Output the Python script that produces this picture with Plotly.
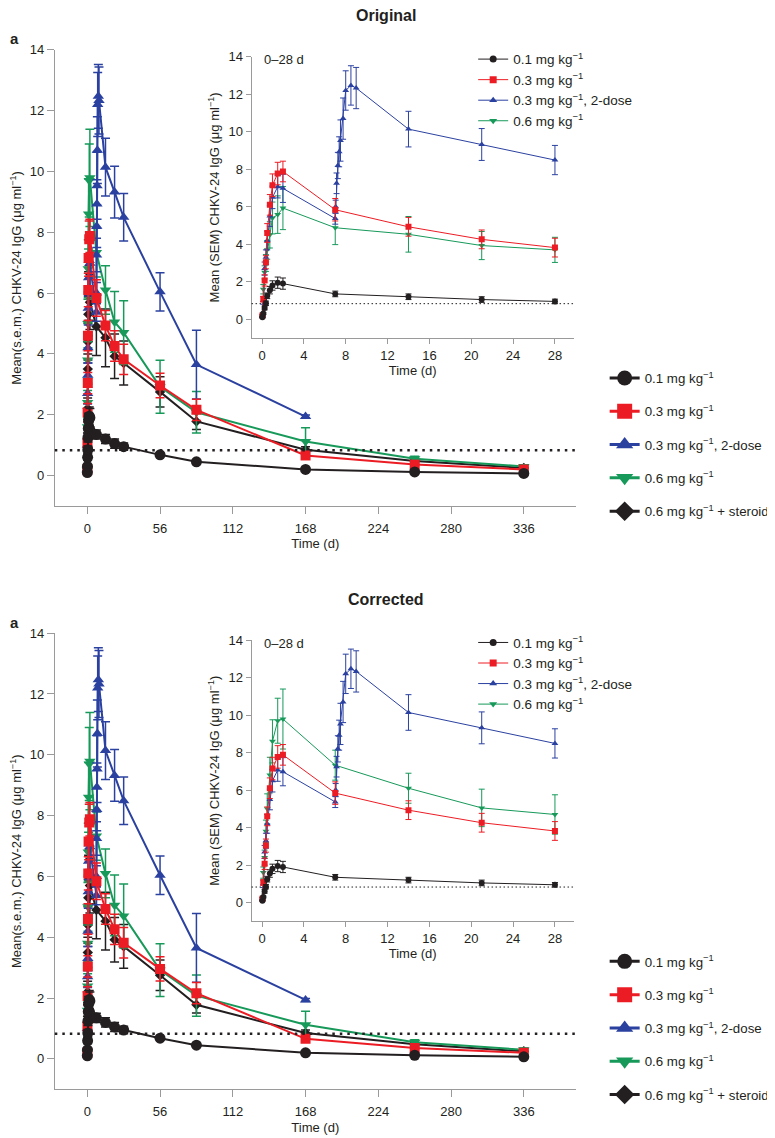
import plotly.graph_objects as go

# sampling times in days
t_early = [0.04, 0.125, 0.25, 0.375, 0.5, 0.75, 1, 1.5, 2, 7, 14, 21, 28]
t_boost = [0.04, 0.125, 0.25, 0.375, 0.5, 0.75, 1, 1.5, 2, 7,
           7.04, 7.125, 7.25, 7.375, 7.5, 7.75, 8, 8.5, 9, 14, 21, 28]
t_late = [56, 84, 168, 252, 336]
t_late_boost = [56, 84, 168]

# 0.1 mg/kg
low_early = [0.1, 0.3, 0.6, 0.85, 1.25, 1.55, 1.8, 1.95, 1.9, 1.35, 1.2, 1.05, 0.95]
low_early_sem = [0.02, 0.05, 0.1, 0.12, 0.15, 0.2, 0.25, 0.3, 0.3, 0.15, 0.15, 0.15, 0.12]
low_late = [0.68, 0.45, 0.2, 0.12, 0.07]
low_late_sem = [0.05, 0.04, 0.03, 0.02, 0.02]

# 0.3 mg/kg
mid_early = [0.2, 1.07, 2.07, 3.04, 4.6, 6.1, 7.15, 7.77, 7.88, 5.84, 4.93, 4.26, 3.82]
mid_early_sem = [0.05, 0.15, 0.3, 0.35, 0.5, 0.55, 0.6, 0.6, 0.55, 0.6, 0.5, 0.5, 0.5]
mid_late = [2.96, 2.16, 0.66, 0.36, 0.2]
mid_late_sem = [0.4, 0.35, 0.1, 0.05, 0.04]

# 0.3 mg/kg, 2-dose
boost_early = [0.2, 1.0, 2.7, 3.3, 4.2, 5.5, 6.5, 7.07, 6.98, 5.37,
               6.0, 7.25, 8.2, 8.93, 9.53, 10.7, 12.2, 12.47, 12.33, 10.14, 9.32, 8.49]
boost_early_sem = [0.05, 0.2, 0.35, 0.4, 0.5, 0.55, 0.6, 0.6, 0.75, 0.3,
                   0.35, 0.55, 0.7, 0.8, 1.1, 1.1, 1.05, 1.05, 1.1, 0.95, 0.85, 0.78]
boost_late = [6.04, 3.65, 1.94]
boost_late_sem = [0.63, 1.13, 0.05]

# 0.6 mg/kg (inset as first published, and corrected)
high_orig = [0.15, 1.6, 2.5, 3.0, 3.7, 4.5, 5.4, 5.58, 5.93, 4.88, 4.53, 3.93, 3.7]
high_orig_sem = [0.05, 0.25, 0.35, 0.45, 0.5, 0.7, 0.85, 1.0, 1.15, 0.9, 0.95, 0.75, 0.67]
high_early = [0.2, 1.6, 2.4, 3.8, 5.0, 6.8, 8.6, 9.7, 9.79, 7.33, 6.1, 5.05, 4.7]
high_early_sem = [0.05, 0.3, 0.4, 0.6, 0.8, 0.95, 1.15, 1.2, 1.6, 0.8, 0.8, 1.0, 1.05]
high_late = [2.92, 2.08, 1.12, 0.55, 0.3]
high_late_sem = [0.87, 0.68, 0.45, 0.08, 0.05]

# 0.6 mg/kg + steroid
ster_early = [0.3, 1.2, 2.2, 3.5, 4.4, 5.3, 5.9, 6.0, 5.7, 4.9, 4.53, 3.92, 3.7]
ster_early_sem = [0.05, 0.2, 0.35, 0.5, 0.6, 0.7, 0.8, 0.9, 0.9, 0.95, 0.95, 0.73, 0.72]
ster_late = [2.75, 1.78, 0.85, 0.48, 0.25]
ster_late_sem = [0.5, 0.27, 0.1, 0.06, 0.04]

lloq = 0.83
main_ticks = [0, 56, 112, 168, 224, 280, 336]
inset_ticks = [0, 4, 8, 12, 16, 20, 24, 28]

BLACK = '#231f20'
RED = '#ec1c24'
BLUE = '#2b41a0'
GREEN = '#17995a'
AXIS = '#9a9a9a'
FONT = 'Liberation Sans, Arial, sans-serif'
KG = 'mg kg<sup>\u22121</sup>'

# page body adds an 8px margin, so the figure is a bit smaller and shifted
PAD = 8
W, H = 775 - PAD, 1138 - PAD


def fx(p):
    return (p - PAD) / W


def fy(p):
    return 1 - (p - PAD) / H


fig = go.Figure()


# (name, colour, symbol, main size, main x, main y, main sem, inset x, inset y, inset sem)
def groups(green_inset, green_inset_sem):
    return [
        ('0.6 ' + KG + ' + steroid', BLACK, 'diamond', 8,
         t_early + t_late, ster_early + ster_late, ster_early_sem + ster_late_sem, None, None, None),
        ('0.6 ' + KG, GREEN, 'triangle-down', 10,
         t_early + t_late, high_early + high_late, high_early_sem + high_late_sem,
         t_early, green_inset, green_inset_sem),
        ('0.3 ' + KG + ', 2-dose', BLUE, 'triangle-up', 10,
         t_boost + t_late_boost, boost_early + boost_late, boost_early_sem + boost_late_sem,
         t_boost, boost_early, boost_early_sem),
        ('0.3 ' + KG, RED, 'square', 10,
         t_early + t_late, mid_early + mid_late, mid_early_sem + mid_late_sem,
         t_early, mid_early, mid_early_sem),
        ('0.1 ' + KG, BLACK, 'circle', 11,
         t_early + t_late, low_early + low_late, low_early_sem + low_late_sem,
         t_early, low_early, low_early_sem),
    ]


legend_main_order = [4, 3, 2, 1, 0]

panels = [('Original', high_orig, high_orig_sem, 0),
          ('Corrected', high_early, high_early_sem, 587)]

layout_axes = {}
legends = {}
annotations = []
shapes = []

for k, (title, g_in, g_in_sem, off) in enumerate(panels):
    mx = 'x' if k == 0 else 'x3'
    my = 'y' if k == 0 else 'y3'
    ix = 'x2' if k == 0 else 'x4'
    iy = 'y2' if k == 0 else 'y4'
    leg_main = 'legend' if k == 0 else 'legend3'
    leg_in = 'legend2' if k == 0 else 'legend4'

    grp = groups(g_in, g_in_sem)
    for name, col, sym, size, xs, ys, es, ixs, iys, ies in grp:
        fig.add_trace(go.Scatter(
            x=xs, y=ys, xaxis=mx, yaxis=my, mode='lines+markers',
            line=dict(color=col, width=2),
            marker=dict(symbol=sym, size=size, color=col),
            error_y=dict(type='data', array=es, color=col, thickness=1.5, width=4.5),
            showlegend=False, hoverinfo='skip'))
    for name, col, sym, size, xs, ys, es, ixs, iys, ies in grp:
        if ixs is None:
            continue
        fig.add_trace(go.Scatter(
            x=ixs, y=iys, xaxis=ix, yaxis=iy, mode='lines+markers',
            line=dict(color=col, width=1),
            marker=dict(symbol=sym, size=6, color=col),
            error_y=dict(type='data', array=ies, color=col, thickness=1, width=3),
            showlegend=False, hoverinfo='skip'))

    # legend keys
    for i in legend_main_order:
        name, col, sym, size = grp[i][:4]
        fig.add_trace(go.Scatter(
            x=[None], y=[None], xaxis=mx, yaxis=my, mode='lines+markers', name=name,
            line=dict(color=col, width=3), marker=dict(symbol=sym, size=15, color=col),
            legend=leg_main, legendgroup='m%d_%d' % (k, i)))
    for i in [4, 3, 2, 1]:
        name, col, sym, size = grp[i][:4]
        fig.add_trace(go.Scatter(
            x=[None], y=[None], xaxis=ix, yaxis=iy, mode='lines+markers', name=name,
            line=dict(color=col, width=1), marker=dict(symbol=sym, size=7, color=col),
            legend=leg_in))

    ax_common = dict(showline=True, linecolor=AXIS, linewidth=1, ticks='outside',
                     tickcolor=AXIS, showgrid=False, zeroline=False,
                     tickfont=dict(size=13, color=BLACK))
    sfx_m = '' if k == 0 else '3'
    sfx_i = '2' if k == 0 else '4'
    layout_axes['xaxis' + sfx_m] = dict(
        ax_common, domain=[fx(55), fx(578)], range=[-25, 376], tickvals=main_ticks,
        ticklen=7, anchor=my, ticklabelstandoff=3,
        title=dict(text='Time (d)', standoff=4, font=dict(size=13, color=BLACK)))
    layout_axes['yaxis' + sfx_m] = dict(
        ax_common, domain=[fy(502 + off), fy(43 + off)], range=[-1, 14], dtick=2, tick0=0,
        ticklen=7, anchor=mx,
        title=dict(text='Mean(s.e.m.) CHKV-24 IgG (\u03bcg ml<sup>\u22121</sup>)', standoff=6,
                   font=dict(size=13, color=BLACK)))
    layout_axes['xaxis' + sfx_i] = dict(
        ax_common, domain=[fx(252.5), fx(576)], range=[-1, 29.8], tickvals=inset_ticks,
        ticklen=5, anchor=iy, ticklabelstandoff=0,
        title=dict(text='Time (d)', standoff=2, font=dict(size=13, color=BLACK)))
    layout_axes['yaxis' + sfx_i] = dict(
        ax_common, domain=[fy(333 + off), fy(50 + off)], range=[-1, 14], dtick=2, tick0=0,
        ticklen=5, anchor=ix,
        title=dict(text='Mean (SEM) CHKV-24 IgG (\u03bcg ml<sup>\u22121</sup>)', standoff=5,
                   font=dict(size=13, color=BLACK)))

    legends[leg_main] = dict(x=fx(607), y=fy(358 + off), xanchor='left', yanchor='top',
                             traceorder='grouped', tracegroupgap=13, itemsizing='trace',
                             bgcolor='rgba(0,0,0,0)', font=dict(size=13.3, color=BLACK))
    legends[leg_in] = dict(x=fx(475), y=fy(37 + off), xanchor='left', yanchor='top',
                           itemsizing='trace', bgcolor='rgba(0,0,0,0)',
                           font=dict(size=13.5, color=BLACK))

    shapes.append(dict(type='line', xref=mx + ' domain', x0=0, x1=1, yref=my, y0=lloq, y1=lloq,
                       line=dict(color=BLACK, width=2.5, dash='2.5px,5px')))
    shapes.append(dict(type='line', xref=ix + ' domain', x0=0, x1=1, yref=iy, y0=lloq, y1=lloq,
                       line=dict(color=BLACK, width=1, dash='1.5px,2.5px')))

    annotations.append(dict(text='<b>%s</b>' % title, x=fx(387), y=fy(9 + off), xref='paper',
                            yref='paper', yanchor='middle', showarrow=False,
                            font=dict(size=16, color=BLACK)))
    annotations.append(dict(text='<b>a</b>', x=fx(8), y=fy(32 + off), xref='paper', yref='paper',
                            xanchor='left', yanchor='middle', showarrow=False,
                            font=dict(size=15, color=BLACK)))
    annotations.append(dict(text='0\u201328 d', x=fx(263), y=fy(53 + off), xref='paper',
                            yref='paper', xanchor='left', yanchor='middle', showarrow=False,
                            font=dict(size=13, color=BLACK)))

fig.update_layout(
    width=W, height=H,
    margin=dict(l=0, r=0, t=0, b=0),
    paper_bgcolor='white', plot_bgcolor='white',
    font=dict(family=FONT, size=13, color=BLACK),
    annotations=annotations,
    shapes=shapes,
    **layout_axes,
    **legends,
)

fig.write_html('out.html')
